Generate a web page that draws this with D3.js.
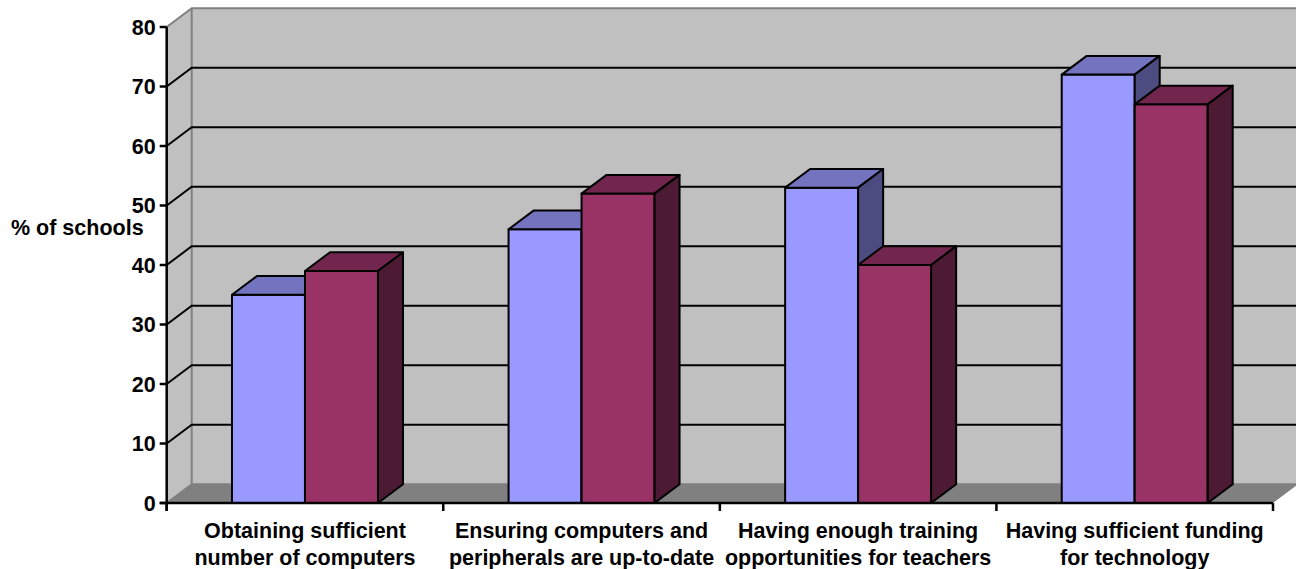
<!DOCTYPE html>
<html>
<head>
<meta charset="utf-8">
<script src="https://cdn.jsdelivr.net/npm/d3@7"></script>
<style>
body { margin: 0; background: #fff; }
text { font-family: "Liberation Sans", Arial, sans-serif; font-weight: bold; fill: #000; }
</style>
</head>
<body>
<svg id="drawing_region"></svg>
<script>
const width = 1296;
const height = 569;

// data
const categories = [
    ["Obtaining sufficient", "number of computers"],
    ["Ensuring computers and", "peripherals are up-to-date"],
    ["Having enough training", "opportunities for teachers"],
    ["Having sufficient funding", "for technology"]
];
const series = ["A", "B"];
const values_a = [35, 46, 53, 72];
const values_b = [39, 52, 40, 67];
const y_ticks = [0, 10, 20, 30, 40, 50, 60, 70, 80];

const front_fill = ["#9999ff", "#993366"];
const top_fill = ["#7373bf", "#73264d"];
const side_fill = ["#4c4c80", "#4c1a33"];

// depth of the 3d box
const dx = 25;
const dy = -18.7;

const left = 166.7;
const right = 1273;
const font_size = "21.5px";

const svg = d3.select('#drawing_region')
    .attr('width', width)
    .attr('height', height);

const yscale = d3.scaleLinear()
    .domain([0, 80])
    .range([503, 27]);

const xscale = d3.scaleBand()
    .domain(d3.range(categories.length))
    .range([left, right])
    .padding(0);

const bar_w = 73;
const pad_outer = (xscale.bandwidth() / bar_w - 2) / 2;
const xinner = d3.scaleBand()
    .domain(series)
    .range([0, xscale.bandwidth()])
    .paddingInner(0)
    .paddingOuter(pad_outer);

const y0 = yscale(0);
const ytop = yscale(80);

// left wall
svg.append("polygon")
    .attr("points", [[left, y0], [left, ytop], [left + dx, ytop + dy], [left + dx, y0 + dy]].join(" "))
    .attr("fill", "#c0c0c0");

// back wall
svg.append("rect")
    .attr("x", left + dx)
    .attr("y", ytop + dy)
    .attr("width", right - left + 10)
    .attr("height", y0 - ytop)
    .attr("fill", "#c0c0c0");

// floor
svg.append("polygon")
    .attr("points", [[left, y0], [left + dx, y0 + dy], [right + dx, y0 + dy], [right, y0]].join(" "))
    .attr("fill", "#808080");

// wall borders
svg.append("path")
    .attr("d", `M${left},${ytop}L${left + dx},${ytop + dy}L${right + dx + 10},${ytop + dy}`
        + `M${left + dx},${ytop + dy}L${left + dx},${y0 + dy}L${right + dx + 10},${y0 + dy}`
        + `M${left},${y0}L${left + dx},${y0 + dy}`)
    .attr("fill", "none")
    .attr("stroke", "#808080")
    .attr("stroke-width", 2);

// gridlines
svg.selectAll("path.grid")
    .data(y_ticks.filter(d => d > 0 && d < 80))
    .join("path")
    .attr("class", "grid")
    .attr("d", d => `M${left},${yscale(d)}L${left + dx},${yscale(d) + dy}L${right + dx + 10},${yscale(d) + dy}`)
    .attr("fill", "none")
    .attr("stroke", "#000")
    .attr("stroke-width", 2);

// bars
const bars = [];
categories.forEach((c, i) => {
    [values_a[i], values_b[i]].forEach((v, j) => {
        bars.push({ cat: i, s: j, value: v });
    });
});

const bar = svg.selectAll("g.bar")
    .data(bars)
    .join("g")
    .attr("class", "bar");

bar.append("rect")
    .attr("x", d => xscale(d.cat) + xinner(series[d.s]))
    .attr("y", d => yscale(d.value))
    .attr("width", xinner.bandwidth())
    .attr("height", d => y0 - yscale(d.value))
    .attr("fill", d => front_fill[d.s]);

bar.append("polygon")
    .attr("points", d => {
        const x = xscale(d.cat) + xinner(series[d.s]);
        const w = xinner.bandwidth();
        const y = yscale(d.value);
        return [[x, y], [x + dx, y + dy], [x + w + dx, y + dy], [x + w, y]].join(" ");
    })
    .attr("fill", d => top_fill[d.s]);

bar.append("polygon")
    .attr("points", d => {
        const x = xscale(d.cat) + xinner(series[d.s]) + xinner.bandwidth();
        const y = yscale(d.value);
        return [[x, y], [x + dx, y + dy], [x + dx, y0 + dy], [x, y0]].join(" ");
    })
    .attr("fill", d => side_fill[d.s]);

bar.selectAll("rect, polygon")
    .attr("stroke", "#000")
    .attr("stroke-width", 2)
    .attr("stroke-linejoin", "round");

// y axis
svg.append("line")
    .attr("x1", left).attr("x2", left)
    .attr("y1", ytop).attr("y2", y0 + 8)
    .attr("stroke", "#000")
    .attr("stroke-width", 2.5);

svg.selectAll("line.ytick")
    .data(y_ticks)
    .join("line")
    .attr("class", "ytick")
    .attr("x1", left - 7).attr("x2", left)
    .attr("y1", d => yscale(d)).attr("y2", d => yscale(d))
    .attr("stroke", "#000")
    .attr("stroke-width", 2.5);

svg.selectAll("text.ylabel")
    .data(y_ticks)
    .join("text")
    .attr("class", "ylabel")
    .attr("x", left - 11)
    .attr("y", d => yscale(d) + 7.5)
    .attr("text-anchor", "end")
    .attr("font-size", font_size)
    .text(d => d);

svg.append("text")
    .attr("x", 11)
    .attr("y", 235)
    .attr("font-size", font_size)
    .text("% of schools");

// x axis
svg.append("line")
    .attr("x1", left - 7).attr("x2", right)
    .attr("y1", y0).attr("y2", y0)
    .attr("stroke", "#000")
    .attr("stroke-width", 2.5);

svg.selectAll("line.xtick")
    .data(d3.range(categories.length + 1))
    .join("line")
    .attr("class", "xtick")
    .attr("x1", d => left + d * xscale.step())
    .attr("x2", d => left + d * xscale.step())
    .attr("y1", y0).attr("y2", y0 + 8)
    .attr("stroke", "#000")
    .attr("stroke-width", 2.5);

const xlab = svg.selectAll("text.xlabel")
    .data(categories)
    .join("text")
    .attr("class", "xlabel")
    .attr("text-anchor", "middle")
    .attr("font-size", font_size);

xlab.selectAll("tspan")
    .data((d, i) => d.map(t => ({ t, i })))
    .join("tspan")
    .attr("x", d => xscale(d.i) + xscale.bandwidth() / 2)
    .attr("y", (d, k) => 538 + k * 26.5)
    .text(d => d.t);
</script>
</body>
</html>
